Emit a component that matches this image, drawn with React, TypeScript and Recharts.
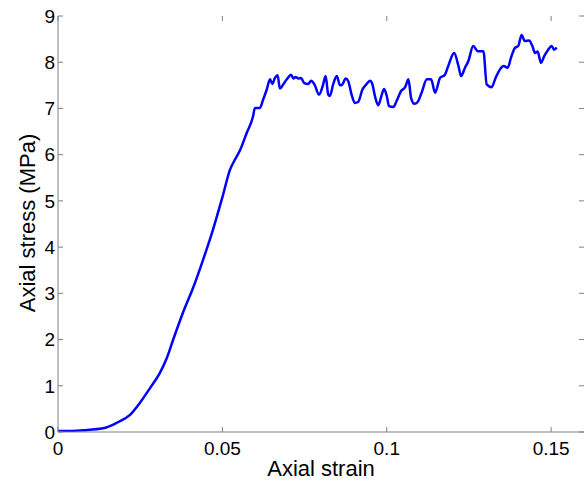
import { Line, LineChart, XAxis, YAxis, Label } from "recharts";

// axial strain (-)
const strain = [
  0, 0.0011, 0.0077, 0.0137, 0.0179, 0.0219, 0.0249, 0.028, 0.031, 0.0331,
  0.035, 0.038, 0.0411, 0.0441, 0.0471, 0.0502, 0.0523, 0.0538, 0.0554,
  0.0574, 0.0593, 0.0599, 0.0614, 0.0624, 0.0635, 0.0645, 0.0652, 0.066,
  0.0668, 0.0675, 0.0685, 0.0696, 0.0709, 0.0716, 0.0723, 0.0731, 0.0739,
  0.0749, 0.0761, 0.077, 0.078, 0.0794, 0.0805, 0.0814, 0.0822, 0.0827,
  0.0837, 0.0848, 0.0858, 0.0865, 0.0875, 0.0883, 0.0893, 0.0903, 0.0913,
  0.0926, 0.0939, 0.0949, 0.0956, 0.0964, 0.0974, 0.0985, 0.0992, 0.1,
  0.1007, 0.102, 0.103, 0.1043, 0.1056, 0.1066, 0.1074, 0.1084, 0.1094,
  0.1106, 0.1122, 0.1135, 0.1147, 0.1162, 0.1177, 0.1187, 0.1205, 0.1218,
  0.1226, 0.1238, 0.1248, 0.1263, 0.1277, 0.1294, 0.1304, 0.1319, 0.1331,
  0.1344, 0.1355, 0.1368, 0.1378, 0.139, 0.14, 0.141, 0.142, 0.1433, 0.1443,
  0.1451, 0.1459, 0.1469, 0.1479, 0.1491, 0.1502, 0.1509, 0.1517,
];

// axial stress (MPa)
const stress = [
  0.02, 0.02, 0.04, 0.08, 0.2, 0.37, 0.63, 0.95, 1.28, 1.6, 1.99, 2.58, 3.12,
  3.72, 4.37, 5.13, 5.67, 5.89, 6.1, 6.47, 6.82, 7.01, 7.01, 7.19, 7.41, 7.63,
  7.53, 7.66, 7.72, 7.43, 7.52, 7.63, 7.73, 7.65, 7.68, 7.65, 7.66, 7.55, 7.53,
  7.6, 7.52, 7.3, 7.48, 7.7, 7.3, 7.27, 7.52, 7.7, 7.5, 7.52, 7.65, 7.59, 7.3,
  7.12, 7.14, 7.41, 7.53, 7.6, 7.53, 7.27, 7.07, 7.3, 7.42, 7.27, 7.05, 7.03,
  7.16, 7.37, 7.46, 7.63, 7.23, 7.1, 7.14, 7.34, 7.63, 7.63, 7.34, 7.66, 7.73,
  7.92, 8.2, 7.92, 7.7, 7.88, 8.02, 8.35, 8.24, 8.24, 7.52, 7.46, 7.66, 7.84,
  7.92, 7.88, 8.1, 8.31, 8.35, 8.59, 8.46, 8.47, 8.35, 8.2, 8.23, 7.99, 8.13,
  8.27, 8.35, 8.27, 8.32,
];

const xTicks = [0, 0.05, 0.1, 0.15];
const yTicks = [0, 1, 2, 3, 4, 5, 6, 7, 8, 9];

const data = strain.map((s, i) => ({ strain: s, stress: stress[i] }));

const W = 588;
const H = 481;
const TOP = 16;
const RIGHT = 584;
const LEFT = 58;
const BOTTOM = 432;
const TICK = 5;
const FRAME = "#808080";
const FONT = "'Liberation Sans', Arial, sans-serif";

function XTick({ x, payload }: any) {
  return (
    <g>
      <line x1={x} x2={x} y1={BOTTOM} y2={BOTTOM - TICK} stroke={FRAME} />
      <line x1={x} x2={x} y1={TOP} y2={TOP + TICK} stroke={FRAME} />
      <text x={x} y={455} textAnchor="middle" fontSize={19} fill="#000" fontFamily={FONT}>
        {String(payload.value)}
      </text>
    </g>
  );
}

function YTick({ y, payload }: any) {
  return (
    <g>
      <line x1={LEFT} x2={LEFT + TICK} y1={y} y2={y} stroke={FRAME} />
      <line x1={RIGHT} x2={RIGHT - TICK} y1={y} y2={y} stroke={FRAME} />
      <text x={55} y={y + 6.8} textAnchor="end" fontSize={19} fill="#000" fontFamily={FONT}>
        {String(payload.value)}
      </text>
    </g>
  );
}

export default function App() {
  return (
    <div style={{ position: "absolute", left: 0, top: 0, width: W, height: H, background: "#fff" }}>
      <LineChart
        width={W}
        height={H}
        data={data}
        margin={{ top: TOP, right: W - RIGHT, bottom: 0, left: 0 }}
      >
        <XAxis
          dataKey="strain"
          type="number"
          domain={[0, 0.16]}
          ticks={xTicks}
          allowDataOverflow
          height={H - BOTTOM}
          tickSize={0}
          tickLine={false}
          tick={<XTick />}
          axisLine={{ stroke: FRAME }}
        >
          <Label
            value="Axial strain"
            position="insideBottom"
            offset={5}
            fontSize={22}
            fill="#000"
            fontFamily={FONT}
          />
        </XAxis>
        <XAxis
          xAxisId="top"
          orientation="top"
          dataKey="strain"
          type="number"
          domain={[0, 0.16]}
          height={0}
          tick={false}
          tickLine={false}
          axisLine={{ stroke: FRAME }}
        />
        <YAxis
          type="number"
          domain={[0, 9]}
          ticks={yTicks}
          allowDataOverflow
          width={LEFT}
          tickSize={0}
          tickLine={false}
          tick={<YTick />}
          axisLine={{ stroke: FRAME }}
        >
          <Label
            content={() => (
              <text
                x={27}
                y={223}
                transform="rotate(-90 27 223)"
                textAnchor="middle"
                fontSize={22}
                fill="#000"
                fontFamily={FONT}
                dy={8}
              >
                Axial stress (MPa)
              </text>
            )}
          />
        </YAxis>
        <YAxis
          yAxisId="right"
          orientation="right"
          type="number"
          domain={[0, 9]}
          width={0}
          tick={false}
          tickLine={false}
          axisLine={{ stroke: FRAME }}
        />
        <Line
          type="monotone"
          dataKey="stress"
          stroke="#0000ff"
          strokeWidth={2.5}
          dot={false}
          isAnimationActive={false}
        />
      </LineChart>
    </div>
  );
}
